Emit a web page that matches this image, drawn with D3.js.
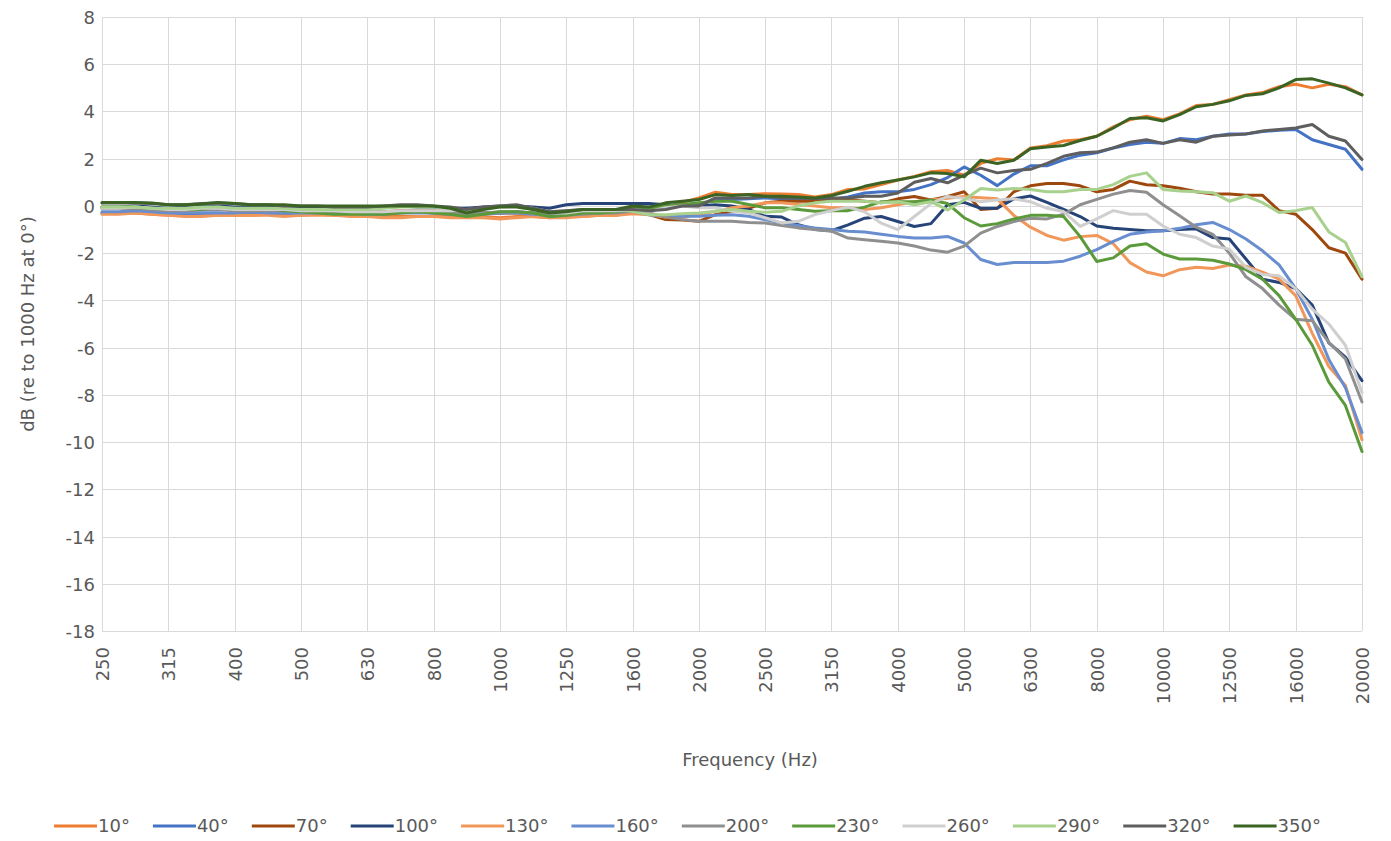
<!DOCTYPE html>
<html>
<head>
<meta charset="utf-8">
<script src="https://cdn.jsdelivr.net/npm/d3@7"></script>
<style>
    body { margin: 0; background: #fff; }
    svg text { font-family: "DejaVu Sans", "Noto Sans", sans-serif; fill: #595959; }
</style>
</head>
<body>
<div class="vis"></div>
<script>
// 1/12 octave bands, 250 Hz .. 20 kHz
const freqs = [250, 265, 281, 297, 315, 334, 354, 375, 400, 420, 445, 472, 500, 530, 561, 595,
    630, 667, 707, 749, 800, 841, 891, 944, 1000, 1059, 1122, 1189, 1250, 1335, 1414, 1498,
    1600, 1682, 1782, 1888, 2000, 2119, 2245, 2378, 2500, 2670, 2828, 2997, 3150, 3364, 3564, 3775,
    4000, 4238, 4490, 4757, 5000, 5339, 5657, 5993, 6300, 6727, 7127, 7551, 8000, 8476, 8980, 9514,
    10000, 10680, 11314, 11986, 12500, 13454, 14254, 15102, 16000, 16951, 17959, 19027, 20000]

const tickFreqs = [250, 315, 400, 500, 630, 800, 1000, 1250, 1600, 2000, 2500, 3150, 4000, 5000, 6300, 8000, 10000, 12500, 16000, 20000]
const yTicks = [8, 6, 4, 2, 0, -2, -4, -6, -8, -10, -12, -14, -16, -18]

const angles = ["10°", "40°", "70°", "100°", "130°", "160°", "200°", "230°", "260°", "290°", "320°", "350°"]
const colors = ["#ED7D31", "#4472C4", "#9E480E", "#264478", "#F1975A", "#698ED0", "#8F8F8F", "#5B9A3A", "#CFCFCF", "#A9D18E", "#5E5E5E", "#3B6424"]

const s10 = [-0.3,-0.3,-0.3,-0.35,-0.4,-0.4,-0.4,-0.4,-0.4,-0.4,-0.35,-0.4,-0.4,-0.35,-0.4,-0.4,-0.4,-0.45,-0.45,-0.45,-0.45,-0.45,-0.45,-0.45,-0.5,-0.45,-0.45,-0.5,-0.45,-0.45,-0.4,-0.4,
    -0.3,-0.2,-0.05,0.15,0.34,0.58,0.48,0.48,0.52,0.5,0.48,0.38,0.48,0.7,0.72,0.9,
    1.1,1.25,1.45,1.5,1.3,1.8,2.0,1.95,2.45,2.55,2.75,2.8,
    2.95,3.35,3.65,3.8,3.65,3.9,4.25,4.3,4.5,4.7,4.8,5.05,5.15,5.0,5.15,5.05,4.7]
const s40 = [-0.3,-0.3,-0.25,-0.3,-0.35,-0.35,-0.3,-0.3,-0.35,-0.3,-0.3,-0.3,-0.35,-0.3,-0.3,-0.3,-0.3,-0.3,-0.25,-0.25,-0.3,-0.3,-0.3,-0.3,-0.3,-0.25,-0.3,-0.35,-0.3,-0.25,-0.2,-0.15,
    -0.1,-0.05,0.0,0.05,0.05,0.27,0.27,0.3,0.34,0.3,0.27,0.2,0.27,0.38,0.55,0.6,
    0.6,0.7,0.9,1.2,1.65,1.3,0.86,1.35,1.7,1.7,1.95,2.15,
    2.25,2.45,2.6,2.7,2.65,2.85,2.8,2.95,3.05,3.05,3.15,3.2,3.24,2.8,2.6,2.4,1.55]
const s70 = [-0.1,-0.1,-0.1,-0.15,-0.2,-0.2,-0.15,-0.1,-0.2,-0.2,-0.15,-0.1,-0.15,-0.2,-0.2,-0.2,-0.25,-0.25,-0.2,-0.2,-0.2,-0.25,-0.25,-0.3,-0.3,-0.3,-0.3,-0.35,-0.3,-0.25,-0.2,-0.2,
    -0.15,-0.37,-0.58,-0.6,-0.65,-0.37,-0.23,-0.1,0.13,0.2,0.2,0.2,0.34,0.27,0.2,0.13,
    0.3,0.4,0.25,0.4,0.6,-0.15,-0.1,0.6,0.85,0.95,0.95,0.85,
    0.6,0.7,1.05,0.9,0.85,0.75,0.6,0.5,0.5,0.45,0.45,-0.2,-0.35,-1.0,-1.77,-2.0,-3.1]
const s100 = [-0.05,-0.05,0.0,-0.05,-0.1,-0.05,0.0,0.0,-0.05,-0.05,-0.05,-0.05,-0.05,-0.05,-0.1,-0.1,-0.1,-0.05,0.0,-0.05,-0.05,-0.1,-0.1,-0.05,0.0,0.0,-0.05,-0.1,0.05,0.1,0.1,0.1,
    0.1,0.1,0.05,0.0,0.0,0.05,0.0,-0.15,-0.44,-0.47,-0.8,-1.0,-1.05,-0.8,-0.52,-0.45,
    -0.66,-0.87,-0.75,0.05,0.15,-0.1,-0.1,0.3,0.42,0.15,-0.15,-0.45,
    -0.85,-0.95,-1.0,-1.05,-1.05,-1.0,-0.97,-1.34,-1.4,-2.25,-3.1,-3.24,-3.5,-4.2,-5.8,-6.4,-7.4]
const s130 = [-0.35,-0.35,-0.3,-0.35,-0.4,-0.45,-0.45,-0.4,-0.4,-0.4,-0.4,-0.45,-0.4,-0.4,-0.4,-0.45,-0.45,-0.5,-0.5,-0.45,-0.45,-0.5,-0.5,-0.5,-0.55,-0.5,-0.45,-0.5,-0.5,-0.45,-0.4,-0.4,
    -0.33,-0.37,-0.47,-0.47,-0.37,-0.23,-0.08,0.0,0.13,0.13,0.06,0.0,-0.08,-0.08,-0.15,-0.08,
    0.05,0.18,0.25,0.32,0.4,0.35,0.3,-0.4,-0.9,-1.25,-1.45,-1.3,
    -1.25,-1.6,-2.4,-2.8,-2.96,-2.7,-2.6,-2.65,-2.5,-2.55,-2.8,-3.1,-3.8,-5.4,-6.8,-7.6,-9.9]
const s160 = [-0.25,-0.25,-0.2,-0.25,-0.3,-0.3,-0.3,-0.3,-0.3,-0.25,-0.3,-0.3,-0.3,-0.3,-0.3,-0.3,-0.35,-0.35,-0.3,-0.3,-0.3,-0.35,-0.4,-0.35,-0.3,-0.3,-0.35,-0.4,-0.35,-0.3,-0.3,-0.25,
    -0.23,-0.37,-0.44,-0.44,-0.44,-0.4,-0.37,-0.44,-0.58,-0.72,-0.83,-0.93,-1.0,-1.07,-1.1,-1.2,
    -1.29,-1.36,-1.36,-1.29,-1.57,-2.27,-2.48,-2.4,-2.4,-2.4,-2.34,-2.13,
    -1.85,-1.5,-1.2,-1.1,-1.05,-0.95,-0.8,-0.7,-1.0,-1.4,-1.9,-2.5,-3.5,-4.8,-6.5,-7.7,-9.6]
const s200 = [-0.1,-0.1,-0.1,-0.15,-0.2,-0.2,-0.15,-0.15,-0.2,-0.2,-0.2,-0.2,-0.25,-0.25,-0.25,-0.25,-0.3,-0.3,-0.25,-0.25,-0.25,-0.3,-0.35,-0.3,-0.25,-0.25,-0.3,-0.45,-0.4,-0.35,-0.3,-0.3,
    -0.23,-0.3,-0.47,-0.58,-0.65,-0.65,-0.65,-0.7,-0.72,-0.83,-0.93,-1.0,-1.07,-1.36,-1.43,-1.5,
    -1.57,-1.7,-1.87,-1.96,-1.7,-1.15,-0.87,-0.66,-0.52,-0.55,-0.35,0.05,
    0.28,0.5,0.65,0.58,0.05,-0.42,-0.9,-1.2,-2.0,-3.0,-3.5,-4.2,-4.8,-4.86,-5.77,-6.48,-8.3]
const s230 = [-0.05,-0.05,-0.05,-0.1,-0.15,-0.15,-0.15,-0.05,-0.15,-0.1,-0.1,-0.2,-0.25,-0.3,-0.35,-0.35,-0.35,-0.35,-0.3,-0.25,-0.3,-0.35,-0.45,-0.35,-0.25,-0.25,-0.3,-0.45,-0.4,-0.3,-0.3,-0.25,
    -0.08,-0.13,0.0,0.06,0.13,0.2,0.2,0.06,-0.08,-0.08,-0.15,-0.23,-0.2,-0.2,-0.05,0.18,
    0.18,0.18,0.25,0.1,-0.5,-0.85,-0.75,-0.55,-0.4,-0.4,-0.45,-1.3,
    -2.35,-2.2,-1.7,-1.6,-2.04,-2.25,-2.25,-2.3,-2.46,-2.7,-3.1,-3.8,-4.8,-5.9,-7.46,-8.45,-10.4]
const s260 = [-0.1,-0.1,-0.05,-0.1,-0.15,-0.15,-0.1,-0.1,-0.15,-0.15,-0.15,-0.15,-0.2,-0.2,-0.2,-0.25,-0.25,-0.25,-0.2,-0.2,-0.2,-0.2,-0.15,-0.1,-0.05,0.0,-0.15,-0.3,-0.3,-0.2,-0.2,-0.2,
    -0.15,-0.23,-0.08,0.0,-0.08,-0.08,-0.23,-0.3,-0.5,-0.72,-0.65,-0.37,-0.2,-0.05,-0.25,-0.73,
    -1.0,-0.45,0.1,0.4,0.32,0.18,0.25,0.3,0.18,-0.1,-0.24,-0.87,
    -0.55,-0.2,-0.35,-0.35,-0.85,-1.2,-1.34,-1.7,-1.83,-2.6,-2.9,-2.96,-3.5,-4.37,-5.0,-5.9,-7.9]
const s290 = [-0.05,-0.05,-0.05,-0.1,-0.1,-0.1,-0.05,-0.05,-0.1,-0.1,-0.1,-0.1,-0.15,-0.15,-0.15,-0.15,-0.15,-0.1,-0.05,-0.05,-0.05,-0.1,-0.2,-0.1,0.0,0.0,-0.1,-0.25,-0.2,-0.15,-0.15,-0.15,
    -0.23,-0.37,-0.37,-0.33,-0.3,-0.23,-0.15,-0.23,-0.27,-0.23,0.0,0.13,0.2,0.2,0.2,0.13,
    0.18,0.05,0.18,-0.17,0.25,0.74,0.67,0.74,0.7,0.6,0.6,0.7,
    0.7,0.9,1.25,1.4,0.7,0.63,0.6,0.56,0.2,0.42,0.14,-0.28,-0.2,-0.07,-1.1,-1.55,-3.0]
const s320 = [0.12,0.12,0.12,0.1,0.05,0.05,0.1,0.12,0.1,0.05,0.05,0.0,0.0,0.0,-0.05,-0.05,-0.05,0.0,0.05,0.05,0.0,-0.05,-0.15,-0.05,0.0,0.05,-0.1,-0.25,-0.2,-0.15,-0.15,-0.15,
    -0.15,-0.2,-0.15,0.0,0.0,0.34,0.34,0.34,0.41,0.34,0.34,0.3,0.34,0.34,0.41,0.41,
    0.55,1.0,1.16,0.98,1.3,1.6,1.4,1.5,1.55,1.8,2.1,2.25,
    2.28,2.46,2.7,2.8,2.65,2.8,2.7,2.95,3.0,3.05,3.17,3.24,3.3,3.45,2.95,2.75,1.97]
const s350 = [0.15,0.15,0.15,0.12,0.05,0.05,0.08,0.15,0.1,0.05,0.05,0.05,0.0,0.0,0.0,0.0,0.0,0.0,0.0,0.0,0.0,-0.1,-0.3,-0.15,-0.05,-0.05,-0.15,-0.3,-0.25,-0.15,-0.15,-0.15,
    0.0,-0.05,0.13,0.2,0.27,0.48,0.44,0.48,0.41,0.41,0.38,0.34,0.44,0.62,0.83,0.98,
    1.1,1.23,1.4,1.37,1.23,1.93,1.8,1.93,2.42,2.5,2.56,2.77,
    2.95,3.3,3.7,3.73,3.6,3.87,4.2,4.3,4.45,4.68,4.75,5.0,5.35,5.38,5.2,5.0,4.7]

const series = [s10, s40, s70, s100, s130, s160, s200, s230, s260, s290, s320, s350]

const W = 1391, H = 841
const mLeft = 102, mRight = 1362, mTop = 17, mBottom = 631
const fontSize = "18px"

const svg = d3.select(".vis").append("svg")
    .attr("width", W)
    .attr("height", H)

let xscale = d3.scalePoint().domain(freqs).range([mLeft, mRight])
let yscale = d3.scaleLinear().domain([-18, 8]).range([mBottom, mTop])

// grid
const grid = svg.append("g").attr("class", "grid")

grid.selectAll("line.h")
    .data(yTicks)
    .join("line")
    .attr("class", "h")
    .attr("x1", mLeft).attr("x2", mRight)
    .attr("y1", d => Math.round(yscale(d)) + 0.5)
    .attr("y2", d => Math.round(yscale(d)) + 0.5)
    .attr("stroke", "#d9d9d9")

grid.selectAll("line.v")
    .data(tickFreqs)
    .join("line")
    .attr("class", "v")
    .attr("y1", mTop).attr("y2", mBottom)
    .attr("x1", d => Math.round(xscale(d)) + 0.5)
    .attr("x2", d => Math.round(xscale(d)) + 0.5)
    .attr("stroke", "#d9d9d9")

// y axis (plain hyphen for negatives, like the original)
const yAxis = svg.append("g")
    .attr("class", "y axis")
    .attr("transform", `translate(${mLeft - 7}, 0)`)
    .call(d3.axisLeft(yscale).tickValues(yTicks).tickFormat(d => String(d)).tickSize(0).tickPadding(0))
yAxis.select(".domain").remove()
yAxis.selectAll("text").style("font-size", fontSize).attr("dy", "0.36em")

// x axis, labels rotated
const xAxis = svg.append("g")
    .attr("class", "x axis")
    .attr("transform", `translate(0, ${mBottom})`)
    .call(d3.axisBottom(xscale).tickValues(tickFreqs).tickSize(0))
xAxis.select(".domain").remove()
xAxis.selectAll("text")
    .style("font-size", fontSize)
    .attr("transform", "rotate(-90)")
    .attr("text-anchor", "end")
    .attr("x", -16)
    .attr("y", 0)
    .attr("dy", "0.36em")

// titles
svg.append("text")
    .attr("transform", `translate(28, ${(mTop + mBottom) / 2}) rotate(-90)`)
    .attr("text-anchor", "middle")
    .attr("dy", "0.36em")
    .style("font-size", fontSize)
    .text("dB (re to 1000 Hz at 0°)")

svg.append("text")
    .attr("x", 750)
    .attr("y", 760)
    .attr("text-anchor", "middle")
    .attr("dy", "0.36em")
    .style("font-size", fontSize)
    .text("Frequency (Hz)")

// lines
let line = d3.line().x((d, i) => xscale(freqs[i])).y(d => yscale(d))

for (let i = 0; i < series.length; i++) {
    svg.append("path")
        .datum(series[i])
        .attr("class", `line l${i}`)
        .attr("fill", "none")
        .attr("stroke", colors[i])
        .attr("stroke-width", 3)
        .attr("stroke-linejoin", "round")
        .attr("stroke-linecap", "round")
        .attr("d", line)
}

// legend
const legend = svg.append("g").attr("class", "legend")
const gap = 23
let lx = 0
angles.forEach((a, i) => {
    let g = legend.append("g").attr("transform", `translate(${lx}, 0)`)
    g.append("line")
        .attr("x1", 0).attr("x2", 43)
        .attr("y1", 0).attr("y2", 0)
        .attr("stroke", colors[i])
        .attr("stroke-width", 3)
    let t = g.append("text")
        .attr("x", 44)
        .attr("dy", "0.36em")
        .style("font-size", fontSize)
        .text(a)
    lx += 44 + t.node().getComputedTextLength() + gap
})
lx -= gap
legend.attr("transform", `translate(${Math.round(687 - lx / 2)}, 826)`)
</script>
</body>
</html>
